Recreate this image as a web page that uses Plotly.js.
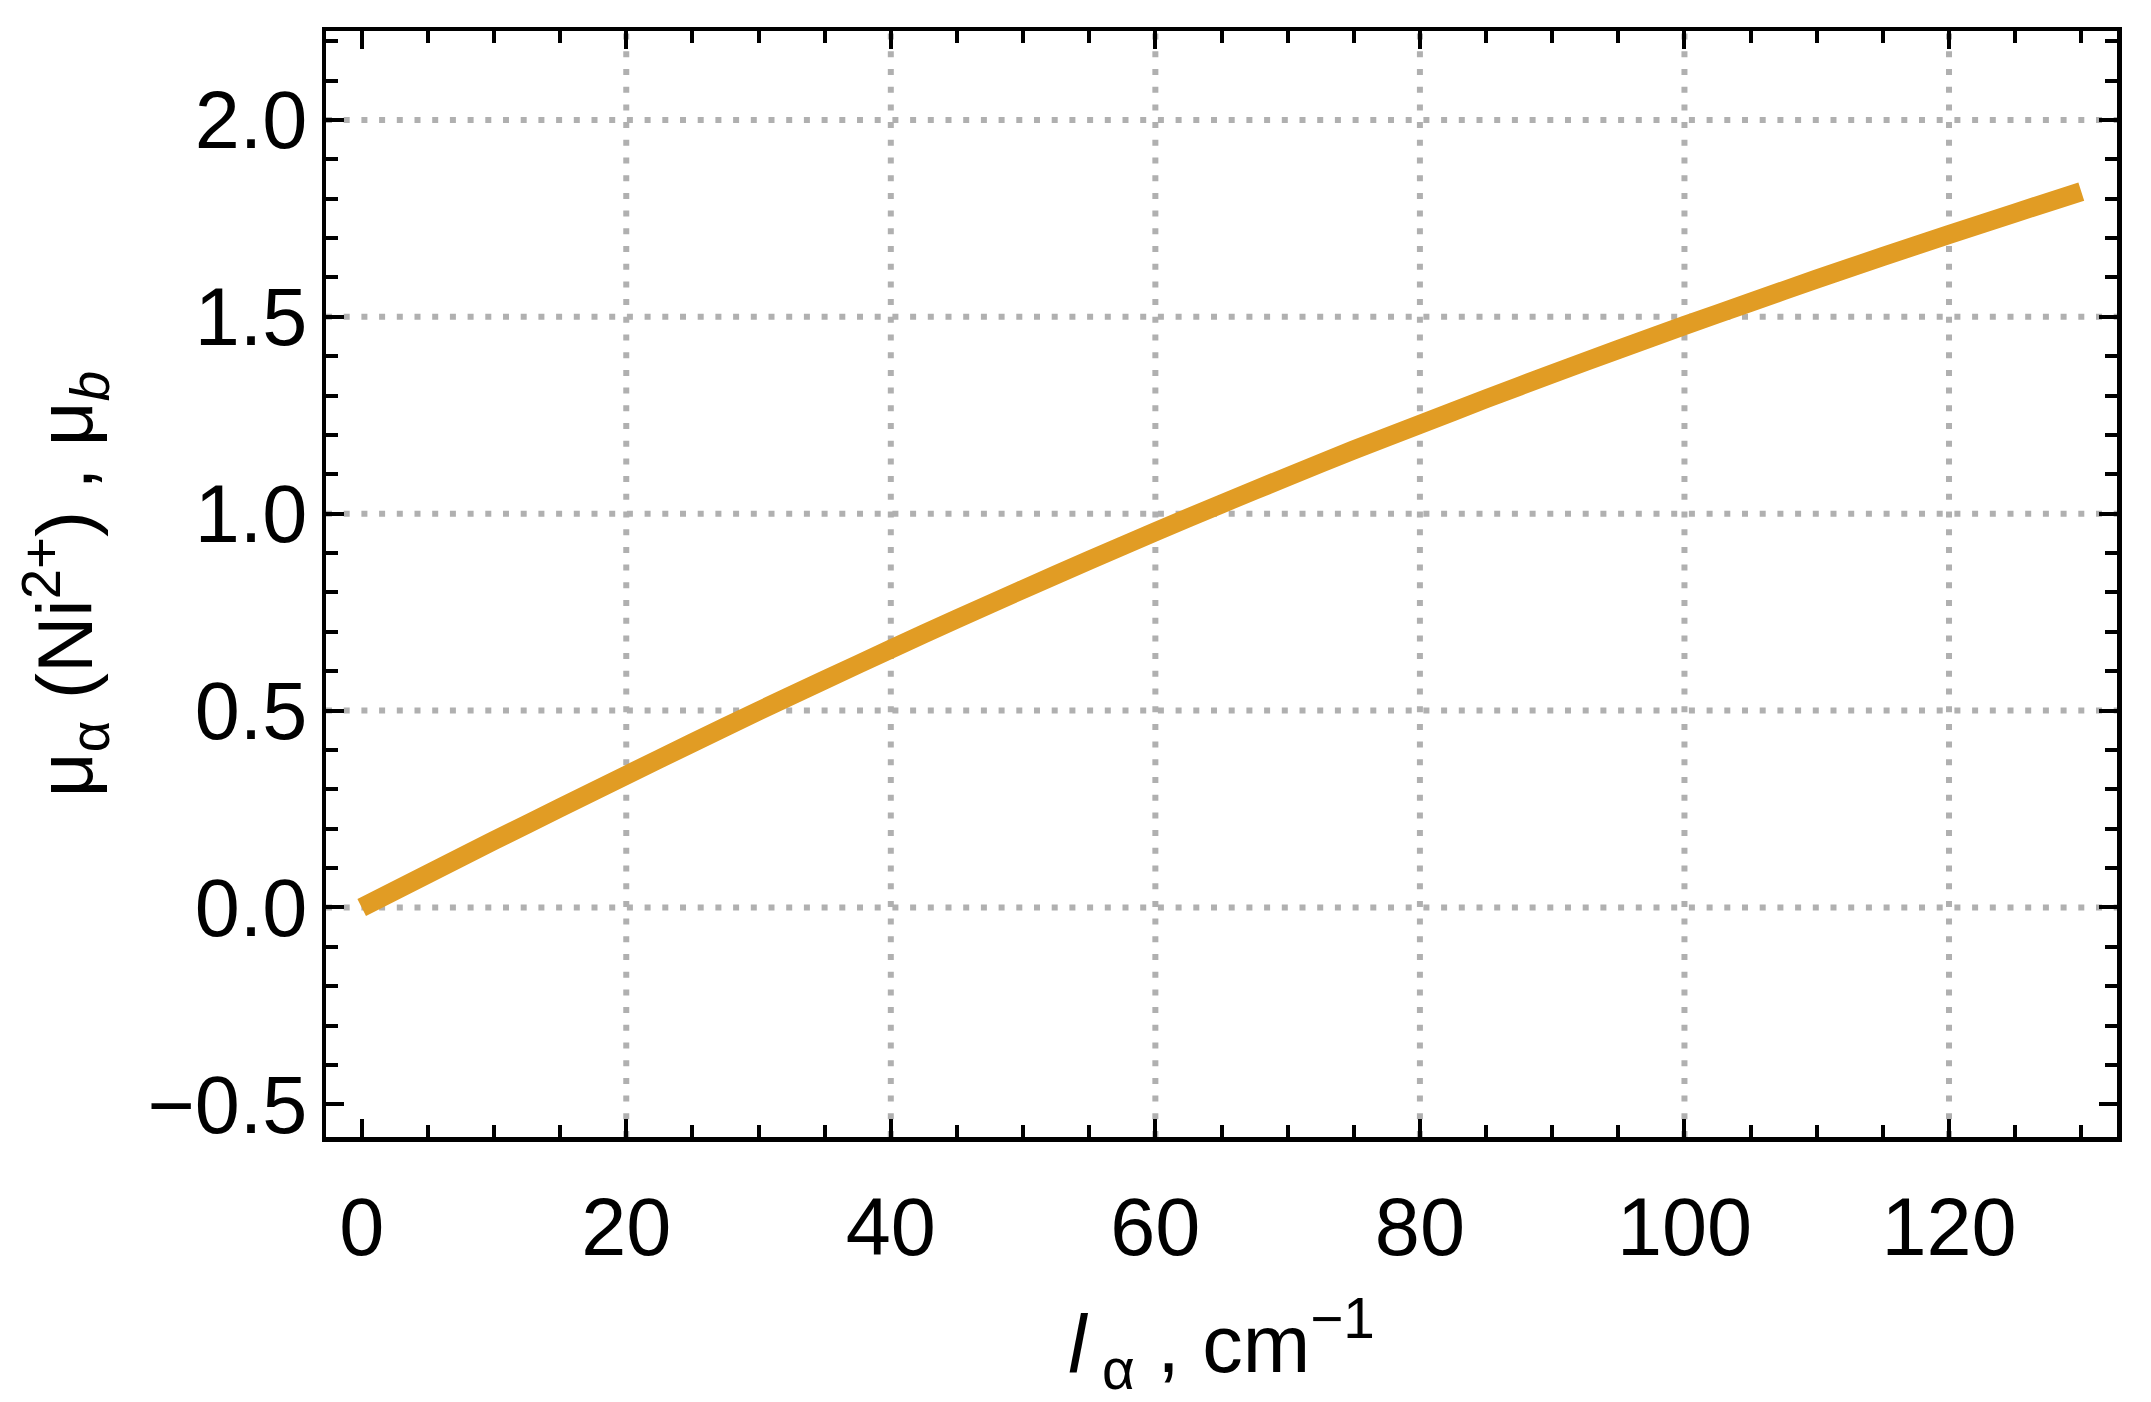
<!DOCTYPE html>
<html>
<head>
<meta charset="utf-8">
<script src="https://cdn.plot.ly/plotly-3.0.1.min.js"></script>
<style>
  html, body { margin: 0; padding: 0; background: #ffffff; }
  #chart { width: 2151px; height: 1402px; }
</style>
</head>
<body>
<div id="chart"></div>
<script>
// Data
const lAlpha = [0, 5, 10, 15, 20, 25, 30, 35, 40, 45, 50, 55, 60, 65, 70, 75, 80, 85, 90, 95, 100, 105, 110, 115, 120, 125, 130];
const muAlpha = [0.000, 0.085, 0.170, 0.253, 0.336, 0.418, 0.499, 0.578, 0.656, 0.733, 0.808, 0.882, 0.954, 1.025, 1.094, 1.162, 1.227, 1.292, 1.355, 1.417, 1.478, 1.537, 1.596, 1.653, 1.709, 1.764, 1.818];

const xTickVals = [0, 20, 40, 60, 80, 100, 120];
const xTickText = ['0', '20', '40', '60', '80', '100', '120'];
const yTickVals = [-0.5, 0.0, 0.5, 1.0, 1.5, 2.0];
const yTickText = ['\u22120.5', '0.0', '0.5', '1.0', '1.5', '2.0'];

const xGridVals = [20, 40, 60, 80, 100, 120];
const yGridVals = [0.0, 0.5, 1.0, 1.5, 2.0];

const FONT = 'Liberation Sans, Arial, sans-serif';
const gridStyle = { color: '#b0b0b0', width: 6, dash: '6px,11.7px' };

const shapes = [];
xGridVals.forEach(v => shapes.push({
  type: 'line', xref: 'x', yref: 'paper', x0: v, x1: v, y0: 0, y1: 1,
  layer: 'below', line: gridStyle
}));
yGridVals.forEach(v => shapes.push({
  type: 'line', xref: 'paper', yref: 'y', x0: 0, x1: 1, y0: v, y1: v,
  layer: 'below', line: gridStyle
}));

const trace = {
  x: lAlpha,
  y: muAlpha,
  type: 'scatter',
  mode: 'lines',
  line: { color: '#E19C24', width: 19, shape: 'spline', smoothing: 0.6 },
  hoverinfo: 'skip',
  showlegend: false
};

const axisCommon = {
  showline: true,
  linecolor: '#000000',
  linewidth: 4.5,
  mirror: 'ticks',
  ticks: 'inside',
  tickcolor: '#000000',
  tickwidth: 4,
  ticklen: 18,
  showgrid: false,
  zeroline: false,
  tickfont: { family: FONT, size: 81, color: '#000000' },
  tickmode: 'array',
  fixedrange: true
};

const layout = {
  width: 2151,
  height: 1402,
  paper_bgcolor: '#ffffff',
  plot_bgcolor: '#ffffff',
  margin: { l: 326, r: 34, t: 31, b: 265, pad: 0 },
  showlegend: false,
  shapes: shapes,
  xaxis: Object.assign({}, axisCommon, {
    range: [-2.7, 132.7],
    tickvals: xTickVals,
    ticktext: xTickText,
    ticklabelstandoff: 16,
    minor: { ticks: 'inside', ticklen: 12, tickwidth: 4, tickcolor: '#000000', dtick: 5, tick0: 0, showgrid: false },
    title: {
      text: '<i>l</i><sub> \u03b1</sub> , cm<sup>\u22121</sup>',
      font: { family: FONT, size: 81, color: '#000000' },
      standoff: 46
    }
  }),
  yaxis: Object.assign({}, axisCommon, {
    range: [-0.583, 2.226],
    tickvals: yTickVals,
    ticktext: yTickText,
    ticklabelstandoff: -2,
    minor: { ticks: 'inside', ticklen: 12, tickwidth: 4, tickcolor: '#000000', dtick: 0.1, tick0: 0, showgrid: false },
    title: {
      text: '\u03bc<sub>\u03b1</sub> (Ni<sup>2+</sup>) , \u03bc<sub><i>b</i></sub>',
      font: { family: FONT, size: 78, color: '#000000' },
      standoff: 30
    }
  })
};

Plotly.newPlot('chart', [trace], layout, { displayModeBar: false, staticPlot: true });
</script>
</body>
</html>
